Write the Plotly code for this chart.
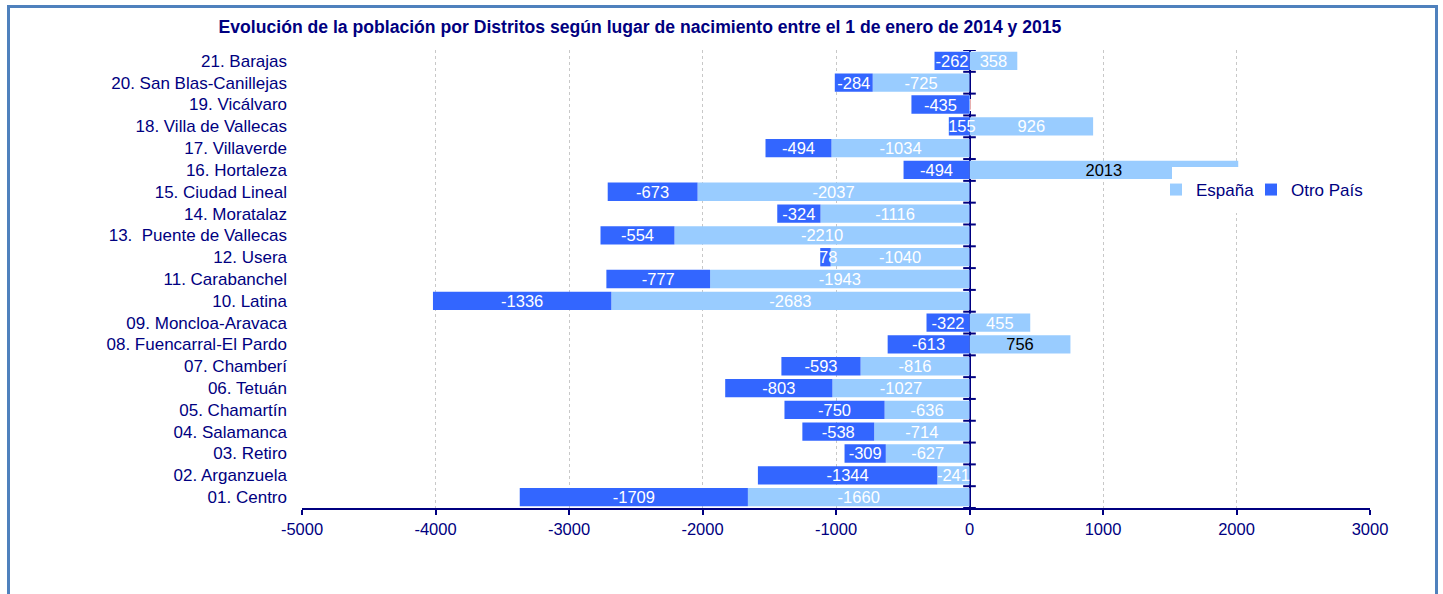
import plotly.graph_objects as go

districts = [
    "01. Centro", "02. Arganzuela", "03. Retiro", "04. Salamanca", "05. Chamartín",
    "06. Tetuán", "07. Chamberí", "08. Fuencarral-El Pardo", "09. Moncloa-Aravaca",
    "10. Latina", "11. Carabanchel", "12. Usera", "13.  Puente de Vallecas",
    "14. Moratalaz", "15. Ciudad Lineal", "16. Hortaleza", "17. Villaverde",
    "18. Villa de Vallecas", "19. Vicálvaro", "20. San Blas-Canillejas", "21. Barajas",
]
espana = [-1660, -241, -627, -714, -636, -1027, -816, 756, 455, -2683, -1943, -1040,
          -2210, -1116, -2037, 2013, -1034, 926, 1, -725, 358]
otro_pais = [-1709, -1344, -309, -538, -750, -803, -593, -613, -322, -1336, -777, -78,
             -554, -324, -673, -494, -494, -155, -435, -284, -262]
x_ticks = [-5000, -4000, -3000, -2000, -1000, 0, 1000, 2000, 3000]

NAVY = "#000080"
FONT = "Liberation Sans, Arial, sans-serif"
ypos = list(range(len(districts)))

W, H = 1443, 594
ML, MR, MT, MB = 302, 73, 50, 86
PW, PH = W - ML - MR, H - MT - MB


def px(x):
    return (x - ML) / PW


def py(y):
    return (H - MB - y) / PH


dark_label_rows = {"08. Fuencarral-El Pardo", "16. Hortaleza"}
esp_text_colors = ["black" if d in dark_label_rows else "white" for d in districts]

fig = go.Figure()
fig.add_trace(go.Bar(
    y=ypos, x=espana, orientation="h", name="España",
    marker=dict(color="#99CCFF", line=dict(width=0)),
    text=[str(v) for v in espana], textposition="inside", insidetextanchor="middle",
    textangle=0,
    textfont=dict(color=esp_text_colors, size=16.5, family=FONT),
    legend="legend",
))
fig.add_trace(go.Bar(
    y=ypos, x=otro_pais, orientation="h", name="Otro País",
    marker=dict(color="#3366FF", line=dict(width=0)),
    text=[str(v) for v in otro_pais], textposition="inside", insidetextanchor="middle",
    textangle=0,
    textfont=dict(color="white", size=16.5, family=FONT),
    legend="legend2",
))
# category tick marks on the vertical axis at x = 0
bounds = [i - 0.5 for i in range(len(districts) + 1)]
fig.add_trace(go.Scatter(
    x=[0] * len(bounds), y=bounds, mode="markers",
    marker=dict(symbol="line-ew", size=9, line=dict(color=NAVY, width=2)),
    showlegend=False, hoverinfo="skip",
))

legend_common = dict(
    orientation="h", y=py(190), xanchor="left", yanchor="middle",
    bgcolor="rgba(0,0,0,0)", font=dict(size=17, color=NAVY, family=FONT), itemwidth=30,
)

fig.update_layout(
    width=W, height=H,
    barmode="relative", bargap=0.16,
    paper_bgcolor="white", plot_bgcolor="white",
    margin=dict(l=ML, r=MR, t=MT, b=MB),
    font=dict(family=FONT, color=NAVY, size=17),
    title=dict(
        text="<b>Evolución de la población por Distritos según lugar de nacimiento entre el 1 de enero de 2014 y 2015</b>",
        x=640 / W, xanchor="center", y=1 - 27 / H, yanchor="middle",
        font=dict(size=17.6, color=NAVY, family=FONT),
    ),
    legend=dict(x=px(1156), **legend_common),
    legend2=dict(x=px(1251), **legend_common),
    uniformtext=dict(minsize=16.5, mode="show"),
    xaxis=dict(
        range=[-5000, 3000], tickvals=x_ticks, ticktext=[str(v) for v in x_ticks],
        showgrid=True, gridcolor="#C8C8C8", griddash="dot", gridwidth=1,
        zeroline=True, zerolinecolor=NAVY, zerolinewidth=2,
        showline=True, linecolor=NAVY, linewidth=2,
        ticks="outside", ticklen=5, tickcolor=NAVY, tickwidth=2,
        tickfont=dict(size=16.5, color=NAVY), fixedrange=True,
    ),
    yaxis=dict(
        range=[-0.5, len(districts) - 0.5], tickvals=ypos, ticktext=districts,
        showgrid=False, zeroline=False, showline=False, ticks="",
        ticklabelstandoff=14,
        tickfont=dict(size=17, color=NAVY), fixedrange=True,
    ),
    shapes=[
        # outer chart-area frame
        dict(type="rect", xref="paper", yref="paper",
             x0=px(8.5), x1=px(1436.5), y0=py(H + 20), y1=py(6.5),
             line=dict(color="#4F81BD", width=3), fillcolor="rgba(0,0,0,0)", layer="below"),
        # legend box background (white)
        dict(type="rect", xref="paper", yref="paper",
             x0=px(1172), x1=px(1362), y0=py(213), y1=py(167),
             line=dict(width=0), fillcolor="white", layer="above"),
    ],
)

fig.write_html("out.html", config={"displayModeBar": False},
               post_script="document.body.style.margin='0px';")
